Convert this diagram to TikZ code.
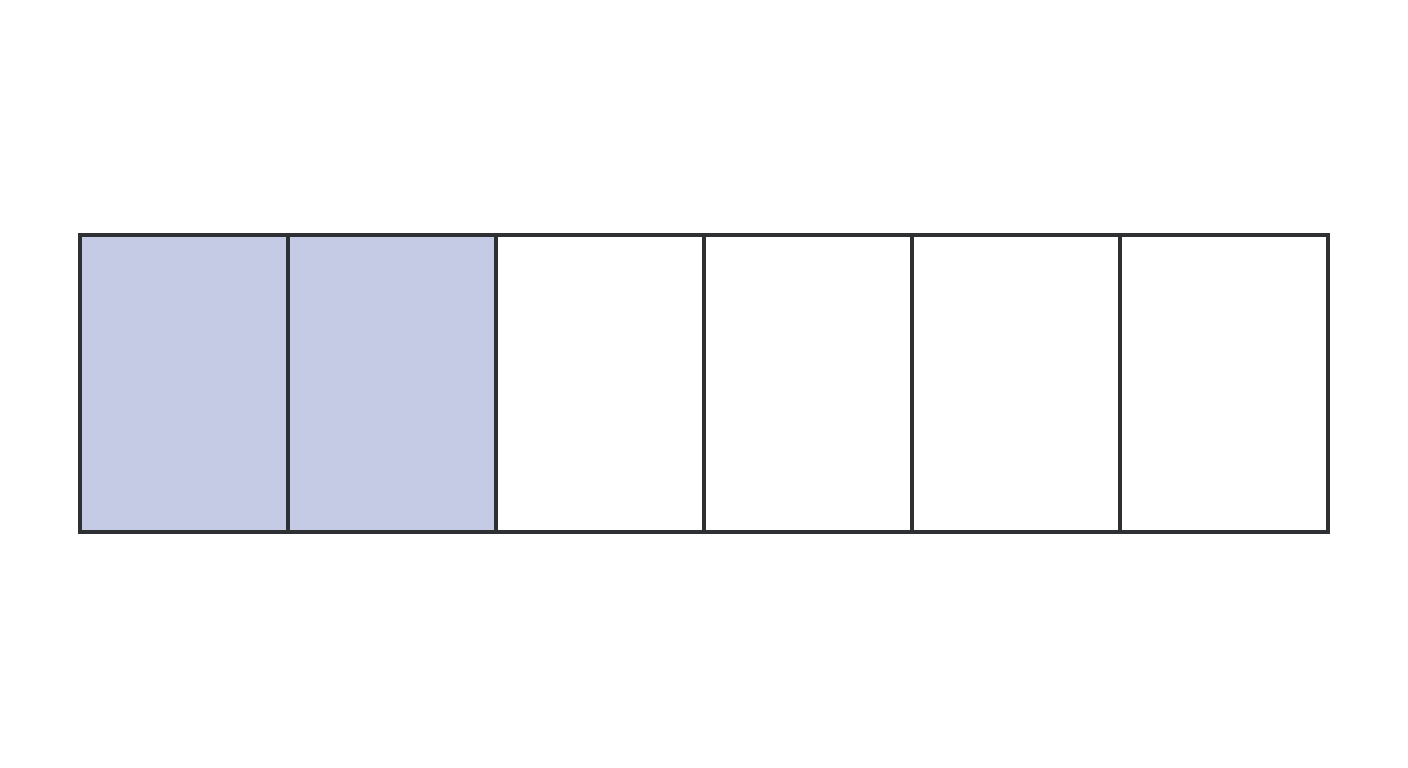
\documentclass[tikz,border=0pt]{standalone}
\definecolor{shade}{HTML}{C5CBE4}
\definecolor{edge}{HTML}{2E3033}
\begin{document}
\begin{tikzpicture}[x=1pt,y=-1pt,
  cell/.style={draw=edge,line width=3.5pt,minimum width=208pt,minimum height=297pt,inner sep=0pt,outer sep=0pt,anchor=north west},
  filled/.style={cell,fill=shade}]
\useasboundingbox[fill=white] (0,0) rectangle (1408,768);
\node[filled] (c1) at (80,235) {};
\node[filled] (c2) at (288,235) {};
\node[cell] (c3) at (496,235) {};
\node[cell] (c4) at (704,235) {};
\node[cell] (c5) at (912,235) {};
\node[cell] (c6) at (1120,235) {};
\end{tikzpicture}
\end{document}
